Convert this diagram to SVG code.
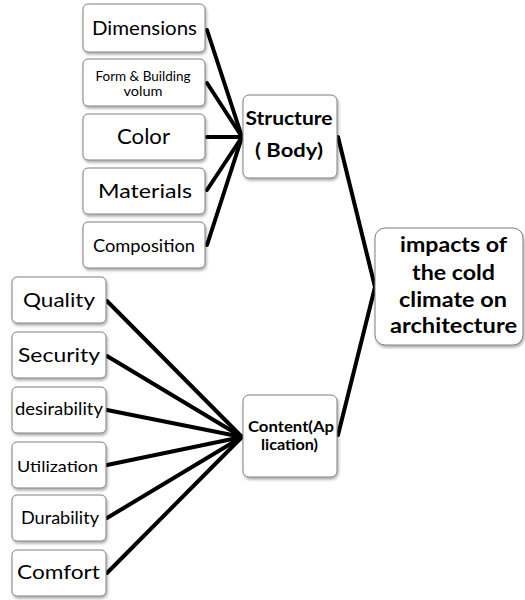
<svg xmlns="http://www.w3.org/2000/svg" width="525" height="600" viewBox="0 0 525 600">
<style>
.box{fill:#fff;stroke:#808080;stroke-width:1;filter:url(#sh)}
.t{font-family:Lato,"Liberation Sans",sans-serif;fill:#000;text-anchor:middle}
.b{font-weight:bold}
.c{stroke:#000;stroke-width:4;stroke-linecap:round;fill:none}
</style>
<defs>
<filter id="sh" x="-10%" y="-10%" width="130%" height="140%">
<feDropShadow dx="1" dy="2" stdDeviation="1.5" flood-color="#000" flood-opacity="0.35"/>
</filter>
</defs>
<rect width="525" height="600" fill="#fff"/>
<g id="connectors">
<line class="c" x1="207" y1="30" x2="242" y2="137"/>
<line class="c" x1="207" y1="83" x2="242" y2="137"/>
<line class="c" x1="207" y1="137" x2="242" y2="137"/>
<line class="c" x1="207" y1="190" x2="242" y2="137"/>
<line class="c" x1="207" y1="245" x2="242" y2="137"/>
<line class="c" x1="107" y1="301" x2="242" y2="437"/>
<line class="c" x1="107" y1="356" x2="242" y2="437"/>
<line class="c" x1="107" y1="410" x2="242" y2="437"/>
<line class="c" x1="107" y1="465" x2="242" y2="437"/>
<line class="c" x1="107" y1="518" x2="242" y2="437"/>
<line class="c" x1="107" y1="573" x2="242" y2="437"/>
<line class="c" x1="338" y1="137" x2="375" y2="287"/>
<line class="c" x1="338" y1="435" x2="375" y2="287"/>
</g>
<g id="n-dimensions"><rect class="box" x="83" y="4" width="122" height="48" rx="5"/><text class="t" x="144.5" y="35" font-size="19" textLength="105" lengthAdjust="spacingAndGlyphs">Dimensions</text></g>
<g id="n-form"><rect class="box" x="83" y="59" width="122" height="47" rx="5"/><text class="t" x="143" y="81" font-size="13" textLength="95" lengthAdjust="spacingAndGlyphs">Form &amp; Building</text><text class="t" x="143" y="96" font-size="13" textLength="39" lengthAdjust="spacingAndGlyphs">volum</text></g>
<g id="n-color"><rect class="box" x="83" y="114" width="122" height="46" rx="5"/><text class="t" x="143.5" y="144" font-size="21" textLength="53" lengthAdjust="spacingAndGlyphs">Color</text></g>
<g id="n-materials"><rect class="box" x="83" y="168" width="122" height="46" rx="5"/><text class="t" x="145" y="198" font-size="20" textLength="94" lengthAdjust="spacingAndGlyphs">Materials</text></g>
<g id="n-composition"><rect class="box" x="83" y="222" width="122" height="46" rx="5"/><text class="t" x="144" y="252" font-size="18" textLength="102" lengthAdjust="spacingAndGlyphs">Composition</text></g>
<g id="n-structure"><rect class="box" x="243" y="95" width="94" height="83" rx="6"/><text class="t b" x="289" y="125" font-size="18" textLength="87" lengthAdjust="spacingAndGlyphs">Structure</text><text class="t b" x="289" y="157" font-size="18" textLength="68" lengthAdjust="spacingAndGlyphs">( Body)</text></g>
<g id="n-main"><rect class="box" x="375" y="228" width="148" height="117" rx="10"/><text class="t b" x="453.5" y="252" font-size="21" textLength="107" lengthAdjust="spacingAndGlyphs">impacts of</text><text class="t b" x="453.5" y="280" font-size="21" textLength="83" lengthAdjust="spacingAndGlyphs">the cold</text><text class="t b" x="453" y="307" font-size="21" textLength="108" lengthAdjust="spacingAndGlyphs">climate on</text><text class="t b" x="453.5" y="333" font-size="21" textLength="127" lengthAdjust="spacingAndGlyphs">architecture</text></g>
<g id="n-quality"><rect class="box" x="12" y="277" width="94" height="46" rx="5"/><text class="t" x="59" y="307" font-size="19" textLength="72" lengthAdjust="spacingAndGlyphs">Quality</text></g>
<g id="n-security"><rect class="box" x="12" y="332" width="94" height="46" rx="5"/><text class="t" x="59" y="362" font-size="19" textLength="82" lengthAdjust="spacingAndGlyphs">Security</text></g>
<g id="n-desirability"><rect class="box" x="12" y="387" width="94" height="46" rx="5"/><text class="t" x="59" y="415" font-size="17" textLength="88" lengthAdjust="spacingAndGlyphs">desirability</text></g>
<g id="n-utilization"><rect class="box" x="12" y="442" width="94" height="46" rx="5"/><text class="t" x="57.5" y="472" font-size="16" textLength="81" lengthAdjust="spacingAndGlyphs">Utilization</text></g>
<g id="n-durability"><rect class="box" x="12" y="495" width="94" height="46" rx="5"/><text class="t" x="60" y="524" font-size="17" textLength="78" lengthAdjust="spacingAndGlyphs">Durability</text></g>
<g id="n-comfort"><rect class="box" x="12" y="550" width="94" height="46" rx="5"/><text class="t" x="58.5" y="579" font-size="20" textLength="83" lengthAdjust="spacingAndGlyphs">Comfort</text></g>
<g id="n-content"><rect class="box" x="243" y="395" width="94" height="82" rx="6"/><text class="t b" x="291" y="432" font-size="15" textLength="86" lengthAdjust="spacingAndGlyphs">Content(Ap</text><text class="t b" x="289.5" y="450" font-size="15" textLength="57" lengthAdjust="spacingAndGlyphs">lication)</text></g>
</svg>
